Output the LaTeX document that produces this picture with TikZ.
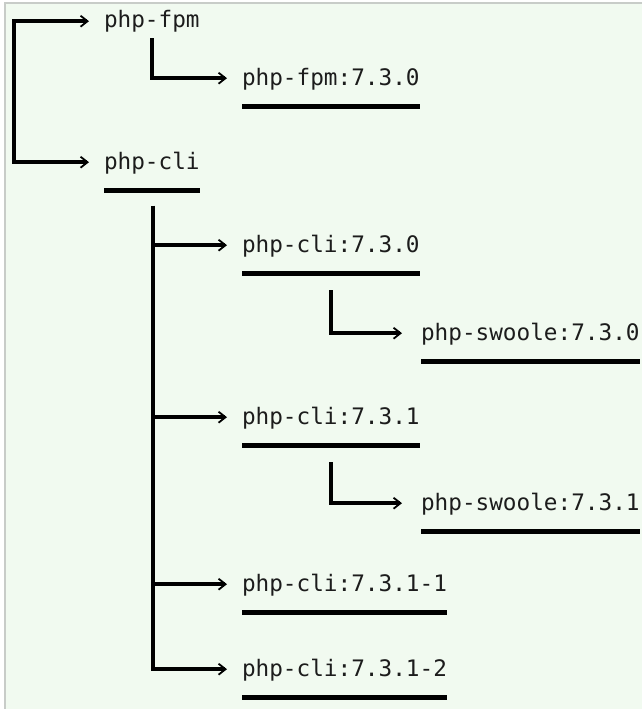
\documentclass[tikz,border=0pt]{standalone}
\usepackage{fontspec}
\setmonofont{DejaVu Sans Mono}
\usetikzlibrary{arrows.meta,calc}
\definecolor{bgmint}{RGB}{241,250,240}
\definecolor{framegray}{RGB}{200,204,200}
\definecolor{inkc}{RGB}{28,28,28}
\tikzset{
  lbl/.style={anchor=base west, inner sep=0pt, outer sep=0pt, text=inkc,
    font=\ttfamily\fontsize{22.7}{27}\selectfont},
  conn/.style={line width=4pt, draw=black, line join=miter,
    -{Straight Barb[length=7pt,width=11pt,line width=1.8pt]}},
  trunk/.style={line width=4pt, draw=black, line join=miter},
  uline/.style={line width=4.2pt, draw=black},
}
\begin{document}
\begin{tikzpicture}[x=1pt,y=-1pt]
\useasboundingbox (0,0) rectangle (642,709);
\fill[white] (0,0) rectangle (642,709);
\fill[bgmint] (5,3) rectangle (642,709);
\draw[framegray, line width=1.2pt] (5,709) -- (5,3) -- (642,3);

% labels
\node[lbl] (fpm)     at (104,28)   {php-fpm};
\node[lbl] (fpm730)  at (242,85)   {php-fpm:7.3.0};
\node[lbl] (cli)     at (104,169)  {php-cli};
\node[lbl] (cli730)  at (242,252)  {php-cli:7.3.0};
\node[lbl] (sw730)   at (421,340)  {php-swoole:7.3.0};
\node[lbl] (cli731)  at (242,424)  {php-cli:7.3.1};
\node[lbl] (sw731)   at (421,510)  {php-swoole:7.3.1};
\node[lbl] (cli7311) at (242,591)  {php-cli:7.3.1-1};
\node[lbl] (cli7312) at (242,676)  {php-cli:7.3.1-2};

% underlines
\foreach \n in {fpm730,cli,cli730,sw730,cli731,sw731,cli7311,cli7312}{
  \draw[uline] ([yshift=-21.5pt]\n.base west) -- ([yshift=-21.5pt]\n.base east);
}

% arrow targets (just before each label)
\foreach \n in {fpm,fpm730,cli,cli730,cli731,cli7311,cli7312}{
  \coordinate (t-\n) at ([xshift=-15pt,yshift=6.8pt]\n.base west);
}
\foreach \n in {sw730,sw731}{
  \coordinate (t-\n) at ([xshift=-19pt,yshift=6.8pt]\n.base west);
}

% root bracket
\coordinate (root) at (14,21);
\draw[conn, {Straight Barb[length=7pt,width=11pt,line width=1.8pt]}-{Straight Barb[length=7pt,width=11pt,line width=1.8pt]}]
  (t-fpm) -- (t-fpm -| root) |- (t-cli);

% php-fpm -> php-fpm:7.3.0
\draw[conn] ([xshift=48pt,yshift=-10.5pt]fpm.base west) |- (t-fpm730);

% php-cli trunk
\coordinate (clitrunk) at ([xshift=49pt,yshift=-36.5pt]cli.base west);
\draw[conn] (clitrunk) |- (t-cli7312);
\draw[conn] (clitrunk |- t-cli730) -- (t-cli730);
\draw[conn] (clitrunk |- t-cli731) -- (t-cli731);
\draw[conn] (clitrunk |- t-cli7311) -- (t-cli7311);

% sub branches
\draw[conn] ([xshift=89pt,yshift=-38pt]cli730.base west) |- (t-sw730);
\draw[conn] ([xshift=89pt,yshift=-38pt]cli731.base west) |- (t-sw731);
\end{tikzpicture}
\end{document}
